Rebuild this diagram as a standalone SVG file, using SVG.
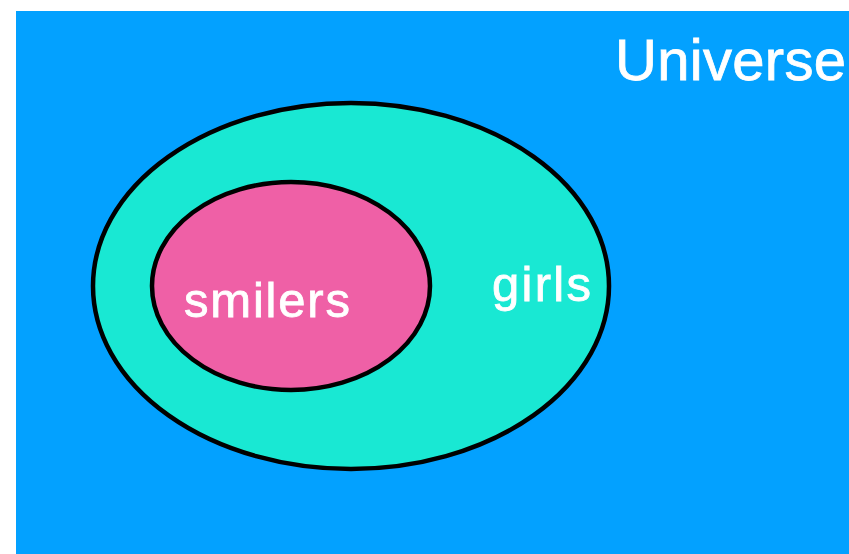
<svg xmlns="http://www.w3.org/2000/svg" width="849" height="554" viewBox="0 0 849 554">
<style>
.set{stroke:#000;stroke-width:4.5}
.lbl{font-family:"Liberation Sans",Arial,sans-serif;fill:#fff;stroke:#fff;stroke-width:0.8}
</style>
<rect x="0" y="0" width="849" height="554" fill="#fff"/>
<g id="universe">
<rect x="16" y="11" width="833" height="543" fill="#03A1FF"/>
<text class="lbl" x="615" y="80" font-size="58" letter-spacing="0.3">Universe</text>
</g>
<g id="girls">
<ellipse class="set" cx="351" cy="286" rx="258" ry="183" fill="#19E8D3"/>
<text class="lbl" x="492" y="301" font-size="49" letter-spacing="2.3">girls</text>
</g>
<g id="smilers">
<ellipse class="set" cx="291" cy="286" rx="139" ry="104" fill="#EF60A6"/>
<text class="lbl" x="184" y="317" font-size="49" letter-spacing="1.8">smilers</text>
</g>
<g id="connectors"/>
</svg>
